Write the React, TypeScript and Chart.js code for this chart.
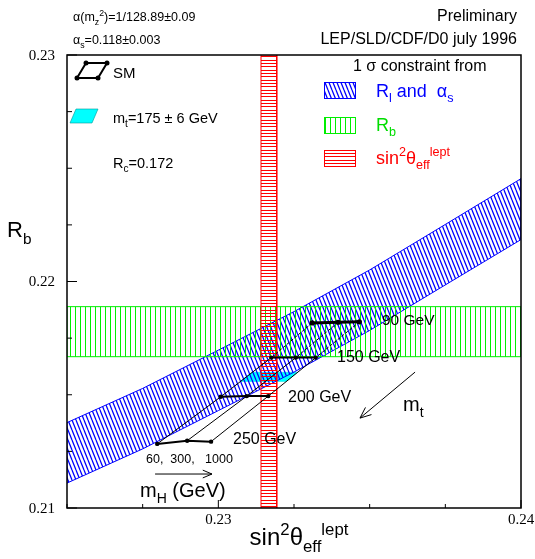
import React, { useEffect, useRef } from "react";
import { Chart, registerables } from "chart.js";
Chart.register(...registerables);

// ---------- axis ranges & ticks ----------
const X_MIN = 0.225;
const X_MAX = 0.24;
const Y_MIN = 0.21;
const Y_MAX = 0.23;
const TICK_STEP = 0.0025;
const X_LABELED = [0.23, 0.24];
const Y_LABELED = [0.21, 0.22, 0.23];

// ---------- SM grid (rows: mt, columns: mH) ----------
const mtValues = [90, 150, 200, 250];
const mHValues = [60, 300, 1000];
const smX = [
  [0.2331, 0.23396, 0.23466],
  [0.23175, 0.23256, 0.23322],
  [0.23008, 0.23094, 0.23165],
  [0.22798, 0.22897, 0.22976],
];
const smY = [
  [0.21817, 0.2182, 0.21822],
  [0.21664, 0.21664, 0.21664],
  [0.21491, 0.21494, 0.21494],
  [0.21283, 0.21297, 0.21293],
];

// ---------- mt = 175 +- 6 GeV region ----------
const cyanX = [0.23072, 0.23111, 0.23262, 0.23225];
const cyanY = [0.21559, 0.21599, 0.21599, 0.21559];

// ---------- R_l and alpha_s band ----------
const blueX = [0.225, 0.2275, 0.23, 0.2325, 0.235, 0.2375, 0.24];
const blueUpper = [0.21377, 0.21528, 0.21697, 0.21867, 0.22051, 0.22252, 0.22454];
const blueLower = [0.2111, 0.21261, 0.2143, 0.216, 0.21784, 0.21985, 0.22185];

// ---------- R_b band ----------
const rbLow = 0.21668;
const rbHigh = 0.21889;

// ---------- sin2theta band ----------
const sinLow = 0.23141;
const sinHigh = 0.23193;

// ---------- arrows (data coords) ----------
const mtArrow = { x0: 0.2365, y0: 0.216, x1: 0.23468, y1: 0.21397 };
const mHArrow = { x0: 0.22791, y0: 0.2115, x1: 0.22979, y1: 0.2115 };

const SANS = '"Liberation Sans", Arial, sans-serif';
const SERIF = '"Liberation Serif", "Times New Roman", serif';
const BLUE = "#0000ff";
const GREEN = "#00ee00";
const RED = "#ff0000";

type Seg = [string, ("n" | "sub" | "sup")?];

function rich(
  ctx: CanvasRenderingContext2D,
  segs: Seg[],
  x: number,
  y: number,
  size: number,
  color: string,
  align: "left" | "right" | "center" = "left",
  family = SANS
) {
  const small = size * 0.7;
  const widths = segs.map(([t, m]) => {
    ctx.font = `${m === "sub" || m === "sup" ? small : size}px ${family}`;
    return ctx.measureText(t).width;
  });
  const total = widths.reduce((a, b) => a + b, 0);
  let cx = align === "left" ? x : align === "right" ? x - total : x - total / 2;
  ctx.fillStyle = color;
  ctx.textAlign = "left";
  ctx.textBaseline = "alphabetic";
  segs.forEach(([t, m], i) => {
    const s = m === "sub" || m === "sup" ? small : size;
    ctx.font = `${s}px ${family}`;
    const dy = m === "sub" ? size * 0.3 : m === "sup" ? -size * 0.42 : 0;
    ctx.fillText(t, cx, y + dy);
    cx += widths[i];
  });
}

function makePattern(kind: "diag" | "vert" | "horiz", color: string): CanvasPattern | string {
  const c = document.createElement("canvas");
  let w = 4, h = 10;
  if (kind === "vert") { w = 5; h = 5; }
  if (kind === "horiz") { w = 10; h = 10; }
  c.width = w;
  c.height = h;
  const g = c.getContext("2d");
  if (!g) return color;
  g.strokeStyle = color;
  g.lineWidth = kind === "diag" ? 1.25 : 1;
  g.beginPath();
  if (kind === "diag") {
    for (const off of [-w, 0, w]) {
      g.moveTo(off, 0);
      g.lineTo(off + w, h);
    }
  } else if (kind === "vert") {
    g.moveTo(0.5, 0);
    g.lineTo(0.5, h);
  } else {
    for (const yy of [0.5, 3.5, 6.5]) {
      g.moveTo(0, yy);
      g.lineTo(w, yy);
    }
  }
  g.stroke();
  const p = g.createPattern(c, "repeat");
  return p || color;
}

function arrow(ctx: CanvasRenderingContext2D, x0: number, y0: number, x1: number, y1: number, head: number) {
  const a = Math.atan2(y1 - y0, x1 - x0);
  ctx.beginPath();
  ctx.moveTo(x0, y0);
  ctx.lineTo(x1, y1);
  ctx.moveTo(x1 - head * Math.cos(a - 0.4), y1 - head * Math.sin(a - 0.4));
  ctx.lineTo(x1, y1);
  ctx.lineTo(x1 - head * Math.cos(a + 0.4), y1 - head * Math.sin(a + 0.4));
  ctx.stroke();
}

const isLabeled = (v: number, list: number[]) => list.some((l) => Math.abs(l - v) < 1e-7);

export default function App() {
  const ref = useRef<HTMLCanvasElement | null>(null);

  useEffect(() => {
    const canvas = ref.current;
    if (!canvas) return;
    const bluePat = makePattern("diag", BLUE);
    const greenPat = makePattern("vert", GREEN);
    const redPat = makePattern("horiz", RED);

    const datasets: any[] = [];
    // SM rows (constant mt)
    mtValues.forEach((mt, i) => {
      datasets.push({
        label: `mt ${mt}`,
        data: mHValues.map((_, j) => ({ x: smX[i][j], y: smY[i][j] })),
        showLine: true,
        fill: false,
        borderColor: "#000",
        backgroundColor: "#000",
        borderWidth: i === 0 ? 3 : 2,
        pointRadius: i === 0 ? 2.6 : 2.2,
        pointBorderWidth: 0,
        order: 0,
      });
    });
    // SM columns (constant mH)
    mHValues.forEach((mh, j) => {
      datasets.push({
        label: `mH ${mh}`,
        data: mtValues.map((_, i) => ({ x: smX[i][j], y: smY[i][j] })),
        showLine: true,
        fill: false,
        borderColor: "#000",
        borderWidth: 1,
        pointRadius: 0,
        segment: { borderDash: (c: any) => (c.p0DataIndex === 0 ? [3, 2] : undefined) },
        order: 1,
      });
    });
    // sin2theta band
    datasets.push({
      label: "sin2theta",
      data: [
        { x: sinLow, y: Y_MIN },
        { x: sinLow, y: Y_MAX },
        { x: sinHigh, y: Y_MAX },
        { x: sinHigh, y: Y_MIN },
        { x: sinLow, y: Y_MIN },
      ],
      showLine: true,
      fill: "shape",
      backgroundColor: redPat,
      borderColor: RED,
      borderWidth: 1,
      pointRadius: 0,
      order: 2,
    });
    // Rb band
    datasets.push({
      label: "Rb",
      data: [
        { x: X_MIN, y: rbLow },
        { x: X_MIN, y: rbHigh },
        { x: X_MAX, y: rbHigh },
        { x: X_MAX, y: rbLow },
        { x: X_MIN, y: rbLow },
      ],
      showLine: true,
      fill: "shape",
      backgroundColor: greenPat,
      borderColor: GREEN,
      borderWidth: 1,
      pointRadius: 0,
      order: 3,
    });
    // Rl & alpha_s band
    const upper = blueX.map((x, i) => ({ x, y: blueUpper[i] }));
    const lower = blueX.map((x, i) => ({ x, y: blueLower[i] })).reverse();
    datasets.push({
      label: "Rl",
      data: [...upper, ...lower, upper[0]],
      showLine: true,
      fill: "shape",
      backgroundColor: bluePat,
      borderColor: BLUE,
      borderWidth: 1,
      pointRadius: 0,
      order: 4,
    });
    // mt = 175 region
    datasets.push({
      label: "mt175",
      data: [...cyanX.map((x, i) => ({ x, y: cyanY[i] })), { x: cyanX[0], y: cyanY[0] }],
      showLine: true,
      fill: "shape",
      backgroundColor: "#00ffff",
      borderColor: "#00e0e0",
      borderWidth: 0.5,
      pointRadius: 0,
      order: 5,
    });

    const deco = {
      id: "deco",
      beforeDraw(chart: any) {
        const c = chart.ctx;
        c.save();
        c.fillStyle = "#fff";
        c.fillRect(0, 0, chart.width, chart.height);
        c.restore();
      },
      afterDatasetsDraw(chart: any) {
        const ctx: CanvasRenderingContext2D = chart.ctx;
        const { left, right, top, bottom } = chart.chartArea;
        const xs = chart.scales.x;
        const ys = chart.scales.y;
        ctx.save();
        // frame
        ctx.strokeStyle = "#000";
        ctx.lineWidth = 1.5;
        ctx.strokeRect(left, top, right - left, bottom - top);
        // ticks
        ctx.lineWidth = 1;
        ctx.beginPath();
        xs.ticks.forEach((t: any) => {
          const px = xs.getPixelForValue(t.value);
          const len = isLabeled(t.value, X_LABELED) ? 8 : 4;
          ctx.moveTo(px, bottom);
          ctx.lineTo(px, bottom - len);
        });
        ys.ticks.forEach((t: any) => {
          const py = ys.getPixelForValue(t.value);
          const len = isLabeled(t.value, Y_LABELED) ? 10 : 5;
          ctx.moveTo(left, py);
          ctx.lineTo(left + len, py);
        });
        ctx.stroke();
        // tick labels
        ctx.fillStyle = "#000";
        ctx.font = `15px ${SERIF}`;
        ctx.textAlign = "center";
        ctx.textBaseline = "middle";
        xs.ticks.forEach((t: any) => {
          if (!isLabeled(t.value, X_LABELED)) return;
          ctx.fillText(t.value.toFixed(2), xs.getPixelForValue(t.value), bottom + 12);
        });
        ctx.textAlign = "right";
        ys.ticks.forEach((t: any) => {
          if (!isLabeled(t.value, Y_LABELED)) return;
          ctx.fillText(t.value.toFixed(2), left - 12, ys.getPixelForValue(t.value) + 1);
        });

        // axis titles
        rich(ctx, [["sin"], ["2", "sup"], ["θ"], ["eff", "sub"], ["lept", "sup"]], 299, 545, 24, "#000", "center");
        rich(ctx, [["R"], ["b", "sub"]], 7, 237, 22, "#000");

        // header texts
        rich(ctx, [["α(m"], ["z", "sub"], ["2", "sup"], [")=1/128.89±0.09"]], 73, 21, 12.5, "#000");
        rich(ctx, [["α"], ["s", "sub"], ["=0.118±0.003"]], 73, 44, 12.5, "#000");
        rich(ctx, [["Preliminary"]], 517, 21, 16, "#000", "right");
        rich(ctx, [["LEP/SLD/CDF/D0 july 1996"]], 517, 44, 16, "#000", "right");

        // left legend
        ctx.strokeStyle = "#000";
        ctx.fillStyle = "#000";
        ctx.lineWidth = 2;
        const sm = [[77, 78], [98, 78], [107, 63], [86, 63]];
        ctx.beginPath();
        sm.forEach(([a, b], i) => (i ? ctx.lineTo(a, b) : ctx.moveTo(a, b)));
        ctx.closePath();
        ctx.stroke();
        sm.forEach(([a, b]) => {
          ctx.beginPath();
          ctx.arc(a, b, 2.5, 0, Math.PI * 2);
          ctx.fill();
        });
        rich(ctx, [["SM"]], 113, 78, 15, "#000");
        ctx.fillStyle = "#00ffff";
        ctx.beginPath();
        ctx.moveTo(70, 123);
        ctx.lineTo(92, 123);
        ctx.lineTo(98, 109);
        ctx.lineTo(76, 109);
        ctx.closePath();
        ctx.fill();
        ctx.strokeStyle = "#009999";
        ctx.lineWidth = 0.6;
        ctx.stroke();
        rich(ctx, [["m"], ["t", "sub"], ["=175 ± 6 GeV"]], 113, 123, 14.5, "#000");
        rich(ctx, [["R"], ["c", "sub"], ["=0.172"]], 113, 168, 14.5, "#000");

        // right legend
        rich(ctx, [["1 σ constraint from"]], 353, 71, 16, "#000");
        const boxes: [any, string, number][] = [
          [bluePat, BLUE, 82],
          [greenPat, GREEN, 117],
          [redPat, RED, 150],
        ];
        boxes.forEach(([pat, col, y]) => {
          ctx.fillStyle = pat;
          ctx.fillRect(324, y, 31, 16);
          ctx.strokeStyle = col;
          ctx.lineWidth = 1;
          ctx.strokeRect(324.5, y + 0.5, 31, 16);
        });
        rich(ctx, [["R"], ["l", "sub"], [" and  "], ["α"], ["s", "sub"]], 376, 97, 18, BLUE);
        rich(ctx, [["R"], ["b", "sub"]], 376, 131, 18, "#00dd00");
        rich(ctx, [["sin"], ["2", "sup"], ["θ"], ["eff", "sub"], ["lept", "sup"]], 376, 164, 18, RED);

        // grid annotations
        rich(ctx, [["90 GeV"]], 382, 325, 15.5, "#000");
        rich(ctx, [["150 GeV"]], 337, 362, 16, "#000");
        rich(ctx, [["200 GeV"]], 288, 402, 16, "#000");
        rich(ctx, [["250 GeV"]], 233, 444, 16, "#000");
        rich(ctx, [["60,  300,   1000"]], 146, 463, 12.5, "#000");
        rich(ctx, [["m"], ["H", "sub"], [" (GeV)"]], 140, 497, 20, "#000");
        rich(ctx, [["m"], ["t", "sub"]], 403, 411, 20, "#000");

        // arrows
        ctx.strokeStyle = "#000";
        ctx.lineWidth = 1;
        arrow(
          ctx,
          xs.getPixelForValue(mtArrow.x0),
          ys.getPixelForValue(mtArrow.y0),
          xs.getPixelForValue(mtArrow.x1),
          ys.getPixelForValue(mtArrow.y1),
          12
        );
        arrow(
          ctx,
          xs.getPixelForValue(mHArrow.x0),
          ys.getPixelForValue(mHArrow.y0),
          xs.getPixelForValue(mHArrow.x1),
          ys.getPixelForValue(mHArrow.y1),
          10
        );
        ctx.restore();
      },
    };

    const chart = new Chart(canvas, {
      type: "scatter",
      data: { datasets },
      options: {
        animation: false,
        responsive: false,
        events: [],
        layout: { padding: { left: 0, top: 55, right: 14, bottom: 0 } },
        plugins: { legend: { display: false }, tooltip: { enabled: false }, title: { display: false } },
        scales: {
          x: {
            type: "linear",
            position: "bottom",
            min: X_MIN,
            max: X_MAX,
            ticks: { stepSize: TICK_STEP, display: false },
            grid: { display: false },
            border: { display: false },
            afterFit: (s: any) => { s.height = 51; },
          },
          y: {
            type: "linear",
            position: "left",
            min: Y_MIN,
            max: Y_MAX,
            ticks: { stepSize: TICK_STEP, display: false },
            grid: { display: false },
            border: { display: false },
            afterFit: (s: any) => { s.width = 67; },
          },
        },
      } as any,
      plugins: [deco],
    });
    return () => chart.destroy();
  }, []);

  return (
    <div style={{ position: "absolute", left: 0, top: 0, width: 535, height: 559, background: "#fff" }}>
      <canvas ref={ref} width={535} height={559} style={{ display: "block" }} />
    </div>
  );
}
